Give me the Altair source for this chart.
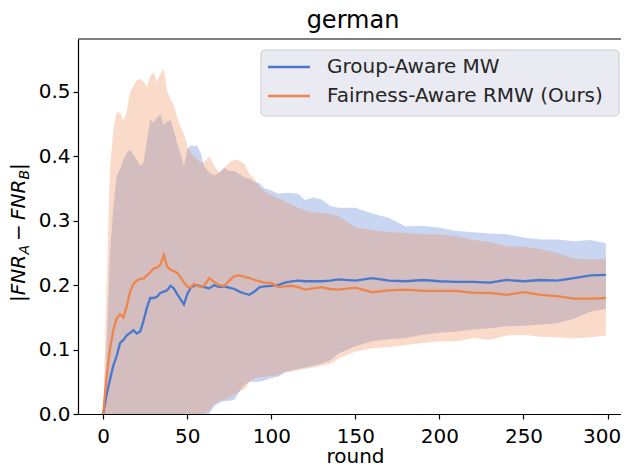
import altair as alt
import pandas as pd

rounds = [0, 2, 4, 6, 8, 10, 12, 14, 16, 18, 20, 22, 24, 26, 28, 30, 32, 34, 36, 38,
          40, 42, 44, 46, 48, 50, 52, 54, 56, 58, 60,
          63, 66, 69, 72, 75, 78, 81, 84, 87, 90, 93, 96,
          100, 104, 108, 112, 116, 120,
          125, 130, 135, 140,
          150, 160, 170, 180, 190, 200, 210, 220, 230, 240, 250, 260, 270, 280, 290,
          299]

gm_mean = [0.0, 0.03, 0.053, 0.075, 0.09, 0.11, 0.115, 0.122, 0.126, 0.13, 0.125, 0.128, 0.145, 0.165, 0.18,
           0.18, 0.182, 0.188, 0.19, 0.192, 0.199, 0.195, 0.186, 0.178, 0.17, 0.186, 0.196, 0.199, 0.2, 0.198, 0.197,
           0.195, 0.2, 0.197, 0.198, 0.196, 0.194, 0.19, 0.187, 0.185, 0.19, 0.197, 0.198,
           0.199, 0.2, 0.204, 0.206, 0.207, 0.206,
           0.206, 0.206, 0.207, 0.209,
           0.207, 0.211, 0.207, 0.206, 0.208, 0.206, 0.205, 0.205, 0.204, 0.208, 0.206, 0.208, 0.207, 0.211, 0.215,
           0.216]
gm_hi = [0.0, 0.1, 0.25, 0.32, 0.37, 0.38, 0.395, 0.405, 0.41, 0.402, 0.395, 0.385, 0.39, 0.425, 0.457,
         0.452, 0.46, 0.465, 0.448, 0.454, 0.456, 0.44, 0.42, 0.405, 0.385, 0.41, 0.417, 0.416, 0.416, 0.405, 0.385,
         0.375, 0.37, 0.375, 0.382, 0.377, 0.377, 0.372, 0.367, 0.365, 0.36, 0.358, 0.35,
         0.347, 0.342, 0.343, 0.343, 0.342, 0.332,
         0.336, 0.333, 0.323, 0.32,
         0.32, 0.311, 0.304, 0.291, 0.292, 0.289, 0.284, 0.282, 0.28, 0.279, 0.274, 0.271, 0.271, 0.268, 0.27,
         0.265]
gm_lo = [0.0, 0.0, 0.0, 0.0, 0.0, 0.0, 0.0, 0.0, 0.0, 0.0, 0.0, 0.0, 0.0, 0.0, 0.0,
         0.0, 0.0, 0.0, 0.0, 0.0, 0.0, 0.0, 0.0, 0.0, 0.0, 0.0, 0.0, 0.0, 0.0, 0.0, 0.0,
         0.0, 0.012, 0.017, 0.02, 0.02, 0.022, 0.035, 0.045, 0.05, 0.05, 0.05, 0.052,
         0.056, 0.058, 0.064, 0.068, 0.07, 0.072,
         0.075, 0.078, 0.083, 0.094,
         0.105, 0.113, 0.116, 0.118, 0.123, 0.126, 0.128, 0.131, 0.133, 0.136, 0.137, 0.139, 0.141, 0.148, 0.159,
         0.163]

rmw_mean = [0.0, 0.058, 0.10, 0.13, 0.148, 0.155, 0.15, 0.167, 0.19, 0.202, 0.207, 0.21, 0.21, 0.215, 0.22,
            0.226, 0.227, 0.232, 0.247, 0.229, 0.224, 0.222, 0.219, 0.212, 0.204, 0.198, 0.196, 0.202, 0.199, 0.197, 0.199,
            0.211, 0.205, 0.2, 0.199, 0.207, 0.214, 0.215, 0.213, 0.211, 0.208, 0.206, 0.204,
            0.203, 0.197, 0.198, 0.199, 0.197, 0.193,
            0.195, 0.197, 0.194, 0.193,
            0.196, 0.189, 0.192, 0.193, 0.191, 0.191, 0.191, 0.188, 0.188, 0.185, 0.189, 0.185, 0.183, 0.179, 0.179,
            0.18]
rmw_hi = [0.0, 0.2, 0.38, 0.44, 0.468, 0.468, 0.455, 0.47, 0.5, 0.51, 0.518, 0.52, 0.516, 0.508, 0.525,
          0.53, 0.515, 0.528, 0.535, 0.502, 0.488, 0.48, 0.46, 0.445, 0.435, 0.418, 0.405, 0.4, 0.395, 0.39, 0.39,
          0.4, 0.385, 0.375, 0.382, 0.39, 0.395, 0.393, 0.388, 0.372, 0.365, 0.352, 0.345,
          0.34, 0.335, 0.33, 0.325, 0.32, 0.316,
          0.313, 0.312, 0.31, 0.307,
          0.29, 0.285, 0.282, 0.281, 0.279, 0.279, 0.276, 0.27, 0.267, 0.26, 0.26, 0.256, 0.25, 0.241, 0.24,
          0.241]
rmw_lo = [0.0, 0.0, 0.0, 0.0, 0.0, 0.0, 0.0, 0.0, 0.0, 0.0, 0.0, 0.0, 0.0, 0.0, 0.0,
          0.0, 0.0, 0.0, 0.0, 0.0, 0.0, 0.0, 0.0, 0.0, 0.0, 0.0, 0.0, 0.0, 0.0, 0.0, 0.0,
          0.005, 0.015, 0.02, 0.022, 0.025, 0.03, 0.035, 0.038, 0.05, 0.055, 0.057, 0.058,
          0.059, 0.06, 0.065, 0.066, 0.068, 0.07,
          0.072, 0.075, 0.078, 0.086,
          0.097, 0.102, 0.104, 0.107, 0.11, 0.113, 0.113, 0.118, 0.115, 0.122, 0.123, 0.12, 0.119, 0.117, 0.119,
          0.122]

names = ["Group-Aware MW", "Fairness-Aware RMW (Ours)"]
colors = ["#4878d0", "#ee854a"]
x_ticks = [0, 50, 100, 150, 200, 250, 300]
y_ticks = [0.0, 0.1, 0.2, 0.3, 0.4, 0.5]
title_text = "german"
x_title = "round"

gm = pd.DataFrame({"round": rounds, "mean": gm_mean, "lo": gm_lo, "hi": gm_hi, "method": names[0]})
rmw = pd.DataFrame({"round": rounds, "mean": rmw_mean, "lo": rmw_lo, "hi": rmw_hi, "method": names[1]})
both = pd.concat([gm, rmw], ignore_index=True)

W, H = 543, 375
FONT = "DejaVu Sans"

xenc = alt.X("round:Q", scale=alt.Scale(domain=[-15, 308], nice=False, zero=False),
             axis=alt.Axis(values=x_ticks, title=x_title, labelFontSize=20, titleFontSize=20,
                           labelPadding=7,
                           labelOffset={"condition": {"test": "datum.value >= 300", "value": -6}, "value": 0},
                           titleY=48, titleX=277, titleBaseline="alphabetic",
                           titleAnchor="start", titleAlign="center"))
yscale = alt.Scale(domain=[0, 0.582], nice=False, zero=False)
yaxis = alt.Axis(values=y_ticks, format=".1f", title=None, labelFontSize=20, labelPadding=3)

band_gm = alt.Chart(gm).mark_area(opacity=0.3, color=colors[0], clip=True).encode(
    x=xenc, y=alt.Y("lo:Q", scale=yscale, axis=yaxis), y2="hi:Q")
band_rmw = alt.Chart(rmw).mark_area(opacity=0.3, color=colors[1], clip=True).encode(
    x=xenc, y=alt.Y("lo:Q", scale=yscale, axis=yaxis), y2="hi:Q")

lines = alt.Chart(both).mark_line(strokeWidth=2.3, clip=True).encode(
    x=xenc,
    y=alt.Y("mean:Q", scale=yscale, axis=yaxis),
    color=alt.Color("method:N", sort=names, scale=alt.Scale(domain=names, range=colors), legend=None),
    detail="method:N",
)

top_rule = alt.Chart(pd.DataFrame({"k": [0]})).mark_rule(color="black", strokeWidth=1.2).encode(
    x=alt.value(0), x2=alt.value(W), y=alt.value(0))

# title as text
title_mark = alt.Chart(pd.DataFrame({"t": [title_text]})).mark_text(
    align="center", baseline="alphabetic", font=FONT, fontSize=24, color="black").encode(
    text="t:N", x=alt.value(275), y=alt.value(-11))

# manual legend (matplotlib-like box)
legend_box = alt.Chart(pd.DataFrame({"k": [0]})).mark_rect(
    fill="#EAEAF2", stroke="#cccccc", strokeWidth=1, cornerRadius=4).encode(
    x=alt.value(183), x2=alt.value(541), y=alt.value(11), y2=alt.value(77))
legend_items = []
for i, (nm, col) in enumerate(zip(names, colors)):
    yy = 28 + 29 * i
    legend_items.append(alt.Chart(pd.DataFrame({"t": [nm]})).mark_rule(color=col, strokeWidth=2.3).encode(
        x=alt.value(190), x2=alt.value(232), y=alt.value(yy)))
    legend_items.append(alt.Chart(pd.DataFrame({"t": [nm]})).mark_text(
        align="left", baseline="middle", font=FONT, fontSize=20, color="#262626").encode(
        text="t:N", x=alt.value(249), y=alt.value(yy)))

# y-axis title |FNR_A - FNR_B| built from pieces (rotated)
def piece(txt, ypix, xpix, size, style):
    return alt.Chart(pd.DataFrame({"t": [txt]})).mark_text(
        angle=270, align="left", baseline="alphabetic", font=FONT, fontSize=size,
        fontStyle=style, color="black").encode(text="t:N", x=alt.value(xpix), y=alt.value(ypix))

ytitle = [
    piece("|FNR", 263, -53, 20, "italic"),
    piece("A", 215.5, -49, 14, "italic"),
    piece("\u2212", 202, -53, 20, "normal"),
    piece("FNR", 181, -53, 20, "italic"),
    piece("B", 140.5, -49, 14, "italic"),
    piece("|", 131, -53, 20, "italic"),
]

chart = alt.layer(band_gm, band_rmw, lines, top_rule, title_mark, legend_box, *legend_items, *ytitle).properties(
    width=W, height=H,
    autosize=alt.AutoSizeParams(type="none"),
    padding={"left": 70, "top": 31, "right": 0, "bottom": 49},
).configure_view(stroke=None).configure_axis(
    labelFont=FONT, titleFont=FONT, titleFontWeight="normal", labelColor="black", titleColor="black",
    domainColor="black", tickColor="black", grid=False, tickSize=5, domainWidth=1.2, tickWidth=1.2,
)

chart.save("out.html", embed_options={"renderer": "svg", "actions": False})
